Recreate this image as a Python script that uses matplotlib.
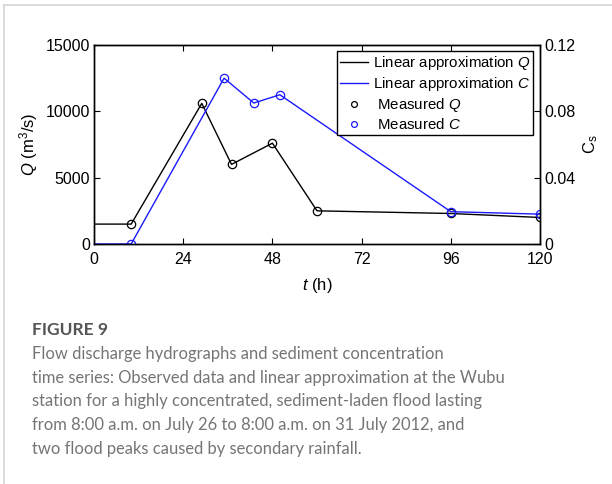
import matplotlib
matplotlib.use("Agg")
import matplotlib.pyplot as plt
from matplotlib.lines import Line2D

plt.rcParams['font.family'] = ['Liberation Sans', 'DejaVu Sans']
plt.rcParams['mathtext.fontset'] = 'custom'
plt.rcParams['mathtext.rm'] = 'Liberation Sans'
plt.rcParams['mathtext.it'] = 'Liberation Sans:italic'

# linear approximation of discharge Q (m3/s) and sediment concentration C
t_line = [0, 10, 29, 37, 48, 60, 96, 120]
q_line = [1500, 1500, 10600, 6000, 7600, 2500, 2300, 2000]
t_cline = [0, 10, 35, 43, 50, 96, 120]
c_line = [0, 0, 0.100, 0.085, 0.090, 0.0195, 0.018]

# measured values
t_q_meas = [10, 29, 37, 48, 60, 96, 120]
q_meas = [1500, 10600, 6000, 7600, 2500, 2300, 2000]
t_c_meas = [10, 35, 43, 50, 96, 120]
c_meas = [0, 0.100, 0.085, 0.090, 0.0195, 0.018]

x_ticks = [0, 24, 48, 72, 96, 120]
q_ticks = [0, 5000, 10000, 15000]
c_ticks = [0, 0.04, 0.08, 0.12]
c_ticklabels = ['0', '0.04', '0.08', '0.12']

caption_lines = [
    "Flow discharge hydrographs and sediment concentration",
    "time series: Observed data and linear approximation at the Wubu",
    "station for a highly concentrated, sediment-laden flood lasting",
    "from 8:00 a.m. on July 26 to 8:00 a.m. on 31 July 2012, and",
    "two flood peaks caused by secondary rainfall.",
]

fig = plt.figure(figsize=(6.12, 4.84), dpi=100)
ax = fig.add_axes([94/612, 1-244/484, (540-94)/612, (244-45)/484])
ax2 = ax.twinx()

blue = '#1a1aff'
l1, = ax.plot(t_line, q_line, color='black', lw=1.0)
m1, = ax.plot(t_q_meas, q_meas, 'o', mfc='none', mec='black', ms=6, mew=0.9)
l2, = ax2.plot(t_cline, c_line, color=blue, lw=1.0)
m2, = ax2.plot(t_c_meas, c_meas, 'o', mfc='none', mec=blue, ms=6, mew=0.9)

ax.set_xlim(0, 120)
ax.set_ylim(0, 15000)
ax2.set_ylim(0, 0.12)
ax.set_xticks(x_ticks)
ax.set_yticks(q_ticks)
ax2.set_yticks(c_ticks)
ax2.set_yticklabels(c_ticklabels)

ax.tick_params(axis='x', direction='in', top=True, labelsize=11.5, length=4, pad=6)
ax.tick_params(axis='y', direction='in', labelsize=11.5, length=4, pad=3)
ax2.tick_params(axis='y', direction='in', labelsize=11.5, length=4, pad=3)
for a in (ax, ax2):
    for s in a.spines.values():
        s.set_linewidth(1.0)

ax.set_xlabel('$t$ (h)', fontsize=12, labelpad=6)
ax.set_ylabel('$Q$ (m$^3$/s)', fontsize=12, labelpad=4)
ax2.set_ylabel('C$_{\\rm s}$', fontsize=12, labelpad=4)

ax2.legend([l1, l2, m1, m2],
           ['Linear approximation $Q$', 'Linear approximation $C$',
            ' Measured $Q$', ' Measured $C$'],
           loc='upper right', bbox_to_anchor=(0.985, 0.97), fontsize=10.8,
           frameon=True, fancybox=False, edgecolor='black', framealpha=1,
           handlelength=1.9, handletextpad=0.3, borderpad=0.2,
           labelspacing=0.2, borderaxespad=0, markerscale=0.7)

# card border
fig.add_artist(Line2D([4/612, 1], [1-5/484, 1-5/484], color='#d4d4d4', lw=1.2))
fig.add_artist(Line2D([4/612, 4/612], [0, 1-5/484], color='#d4d4d4', lw=1.2))

fig.text(32/612, 1-330/484, 'FIGURE 9', fontsize=12.5, fontweight='bold',
         color='#555555', family=['Lato', 'DejaVu Sans'], va='center')
for i, line in enumerate(caption_lines):
    fig.text(32/612, 1-(354 + i*23.7)/484, line, fontsize=11.9, color='#757575',
             family=['Lato', 'DejaVu Sans'], va='center')

fig.savefig('out.png', dpi=100)
